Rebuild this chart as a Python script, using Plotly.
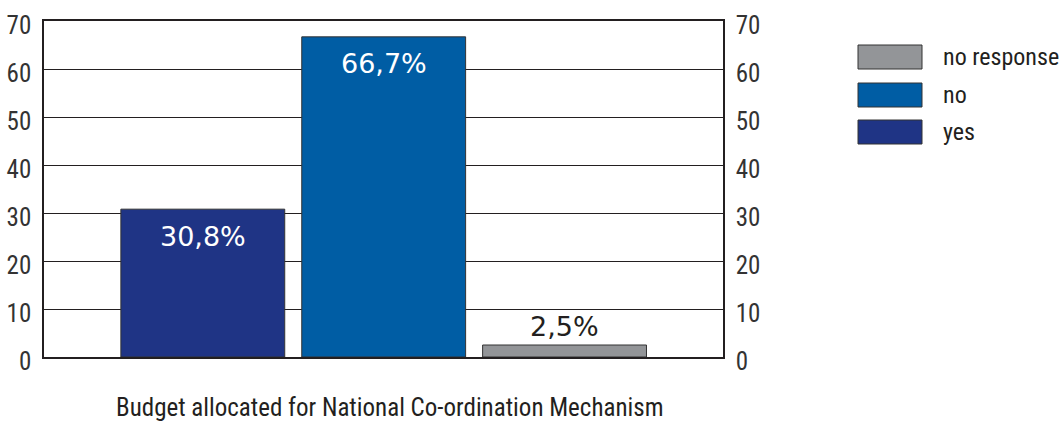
import plotly.graph_objects as go

categories = ["yes", "no", "no response"]
values = [30.8, 66.7, 2.5]
labels = ["30,8%", "66,7%", "2,5%"]
colors = ["#1f3485", "#005da4", "#939598"]
legend_order = ["no response", "no", "yes"]
y_ticks = [0, 10, 20, 30, 40, 50, 60, 70]
x_title = "Budget allocated for National Co-ordination Mechanism"

NARROW = "Liberation Sans Narrow, Arial Narrow, Roboto Condensed, sans-serif"
TXT = "#231f20"
W, H = 1059, 423
PL, PR, PT, PB = 44, 723, 21, 357

fig = go.Figure()
for c, v, col in zip(categories, values, colors):
    fig.add_trace(go.Bar(
        x=[c], y=[v], name=c, width=0.906,
        marker=dict(color=col, line=dict(color="#333333", width=1)),
        showlegend=False, hoverinfo="skip",
    ))
# invisible trace to activate right axis
fig.add_trace(go.Scatter(x=[categories[0]], y=[0], yaxis="y2", mode="markers",
                         marker=dict(opacity=0), showlegend=False, hoverinfo="skip"))

annotations = []
for c, v, lab in zip(categories, values, labels):
    inside = v > 10
    annotations.append(dict(
        x=c, y=v, xref="x", yref="y", text=lab, showarrow=False,
        yshift=-27 if inside else 19,
        font=dict(family="DejaVu Sans, sans-serif", size=27,
                  color="white" if inside else TXT),
    ))

def px_to_paper(px, py):
    return (px - PL) / (PR - PL), (PB - py) / (PB - PT)

# custom legend
shapes = []
leg_centers = [57, 95, 132]
col_map = dict(zip(categories, colors))
for name, yc in zip(legend_order, leg_centers):
    x0, y0 = px_to_paper(858, yc + 12)
    x1, y1 = px_to_paper(922, yc - 12)
    shapes.append(dict(type="rect", xref="paper", yref="paper",
                       x0=x0, x1=x1, y0=y0, y1=y1,
                       fillcolor=col_map[name], line=dict(color="#333333", width=1)))
    tx, ty = px_to_paper(941, yc)
    annotations.append(dict(x=tx, y=ty, xref="paper", yref="paper",
                            text=name, showarrow=False, xanchor="left", yanchor="middle",
                            font=dict(family=NARROW, size=24, color=TXT)))

tx, ty = px_to_paper(390, 408)
annotations.append(dict(x=tx, y=ty, xref="paper", yref="paper", text=x_title,
                        showarrow=False, xanchor="center", yanchor="middle",
                        font=dict(family=NARROW, size=25, color=TXT)))

axis_common = dict(
    range=[0, 70], tickvals=y_ticks, showgrid=True, gridcolor="#231f20", gridwidth=1,
    zeroline=False, showline=True, linecolor="#231f20", linewidth=1.5,
    ticks="", automargin=False, ticklabelshift=4,
    tickfont=dict(family=NARROW, size=25, color="#333333"),
)

fig.update_layout(
    width=W, height=H, barmode="overlay",
    margin=dict(l=PL, r=W - PR, t=PT, b=H - PB, autoexpand=False),
    plot_bgcolor="white", paper_bgcolor="white",
    xaxis=dict(range=[-0.878, 2.876], showticklabels=False, ticks="", showgrid=False,
               showline=True, linecolor="#231f20", linewidth=1.5, mirror=True,
               automargin=False),
    yaxis=dict(**axis_common, ticklabelstandoff=6),
    yaxis2=dict(**axis_common, overlaying="y", side="right", ticklabelstandoff=6),
    shapes=shapes, annotations=annotations,
)
fig.write_html("out.html", config={"displayModeBar": False},
               post_script="document.body.style.margin='0';document.body.style.overflow='hidden';")
